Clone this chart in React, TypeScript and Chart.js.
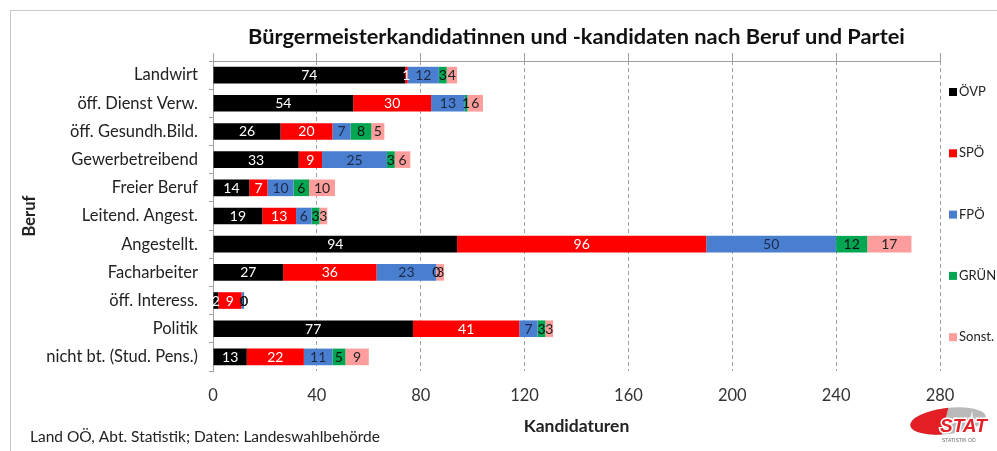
import React, { useEffect, useRef } from 'react';
import { Chart, registerables } from 'chart.js';

Chart.register(...registerables);

const FONT = 'Lato, "Open Sans", sans-serif';

const categories = [
  'Landwirt',
  'öff. Dienst Verw.',
  'öff. Gesundh.Bild.',
  'Gewerbetreibend',
  'Freier Beruf',
  'Leitend. Angest.',
  'Angestellt.',
  'Facharbeiter',
  'öff. Interess.',
  'Politik',
  'nicht bt. (Stud. Pens.)',
];
const oevp = [74, 54, 26, 33, 14, 19, 94, 27, 2, 77, 13];
const spoe = [1, 30, 20, 9, 7, 13, 96, 36, 9, 41, 22];
const fpoe = [12, 13, 7, 25, 10, 6, 50, 23, 1, 7, 11];
const gruene = [3, 1, 8, 3, 6, 3, 12, 0, 0, 3, 5];
const sonst = [4, 6, 5, 6, 10, 3, 17, 3, 0, 3, 9];

const seriesNames = ['ÖVP', 'SPÖ', 'FPÖ', 'GRÜNE', 'Sonst.'];
const seriesValues = [oevp, spoe, fpoe, gruene, sonst];
const seriesColors = ['#000000', '#ff0000', '#4a7fd0', '#00a651', '#ff9d9d'];
const labelColors = ['#ffffff', '#ffffff', '#1c2a48', '#111111', '#222222'];

const xTicks = [0, 40, 80, 120, 160, 200, 240, 280];

const titleText = 'Bürgermeisterkandidatinnen und -kandidaten nach Beruf und Partei';
const xTitle = 'Kandidaturen';
const yTitle = 'Beruf';
const footnote = 'Land OÖ, Abt. Statistik; Daten: Landeswahlbehörde';

const decorPlugin = {
  id: 'decor',
  beforeDraw(chart: any) {
    const ctx = chart.ctx;
    ctx.save();
    ctx.fillStyle = '#ffffff';
    ctx.fillRect(0, 0, chart.width, chart.height);
    ctx.strokeStyle = '#c8c8c8';
    ctx.lineWidth = 1;
    ctx.strokeRect(10.5, 10.5, chart.width + 20, chart.height + 20);
    ctx.restore();
  },
  afterDatasetsDraw(chart: any) {
    const ctx = chart.ctx;
    ctx.save();
    ctx.font = `14px ${FONT}`;
    ctx.textAlign = 'center';
    ctx.textBaseline = 'middle';
    chart.data.datasets.forEach((ds: any, di: number) => {
      const meta = chart.getDatasetMeta(di);
      meta.data.forEach((el: any, i: number) => {
        const v = ds.data[i];
        const p = el.getProps(['x', 'y', 'base'], true);
        ctx.fillStyle = labelColors[di];
        ctx.fillText(String(v), (p.x + p.base) / 2, p.y + 0.5);
      });
    });
    ctx.restore();
  },
  afterDraw(chart: any) {
    const ctx = chart.ctx;
    const ca = chart.chartArea;
    ctx.save();
    // title
    ctx.fillStyle = '#111111';
    ctx.font = `bold 21.8px ${FONT}`;
    ctx.textAlign = 'center';
    ctx.textBaseline = 'middle';
    ctx.fillText(titleText, (ca.left + ca.right) / 2, 37);
    // legend
    ctx.font = `13px ${FONT}`;
    ctx.textAlign = 'left';
    seriesNames.forEach((n, i) => {
      const y = ca.top + 31 + i * 61.3;
      ctx.fillStyle = seriesColors[i];
      ctx.fillRect(ca.right + 9, y - 4, 8, 8);
      ctx.fillStyle = '#222222';
      ctx.fillText(n, ca.right + 19, y);
    });
    // footnote
    ctx.font = `15.5px ${FONT}`;
    ctx.fillStyle = '#222222';
    ctx.fillText(footnote, 30, 437);
    // logo
    const cx = 948, cy = 421;
    ctx.save();
    ctx.beginPath();
    ctx.ellipse(cx, cy, 38, 13, -0.12, 0, Math.PI * 2);
    ctx.fillStyle = '#b9b9b9';
    ctx.fill();
    ctx.clip();
    ctx.beginPath();
    ctx.moveTo(cx + 2, cy - 20);
    ctx.lineTo(cx - 60, cy - 20);
    ctx.lineTo(cx - 60, cy + 20);
    ctx.lineTo(cx - 8, cy + 20);
    ctx.closePath();
    ctx.fillStyle = '#e31e24';
    ctx.fill();
    ctx.restore();
    ctx.font = `italic bold 19px "Liberation Sans", sans-serif`;
    ctx.textAlign = 'left';
    ctx.lineWidth = 3;
    ctx.strokeStyle = '#ffffff';
    ctx.strokeText('STAT', 940, 427);
    ctx.fillStyle = '#e31e24';
    ctx.fillText('STAT', 940, 427);
    ctx.font = `5px "Liberation Sans", sans-serif`;
    ctx.fillStyle = '#666666';
    ctx.fillText('STATISTIK OÖ', 942, 441);
    ctx.restore();
  },
};

export default function App() {
  const ref = useRef<HTMLCanvasElement | null>(null);
  useEffect(() => {
    document.body.style.margin = '0';
    const canvas = ref.current;
    if (!canvas) return;
    const chart = new Chart(canvas, {
      type: 'bar',
      data: {
        labels: categories,
        datasets: seriesNames.map((n, i) => ({
          label: n,
          data: seriesValues[i],
          backgroundColor: seriesColors[i],
          borderWidth: 0,
          categoryPercentage: 1,
          barPercentage: 0.59,
        })),
      },
      options: {
        indexAxis: 'y',
        responsive: false,
        animation: false,
        layout: { padding: { left: 0, right: 57, top: 53, bottom: 0 } },
        plugins: {
          legend: { display: false },
          title: { display: false },
          tooltip: { enabled: false },
        },
        scales: {
          x: {
            type: 'linear',
            position: 'bottom',
            stacked: true,
            min: 0,
            max: 280,
            afterBuildTicks: (s: any) => {
              s.ticks = xTicks.map((v) => ({ value: v }));
            },
            afterFit: (s: any) => {
              s.height = 80;
            },
            ticks: {
              font: { family: FONT, size: 16.5 },
              color: '#333333',
              padding: 15,
            },
            grid: {
              drawTicks: false,
              color: (c: any) => (c.tick && c.tick.value === 0 ? 'rgba(0,0,0,0)' : '#a0a0a0'),
              lineWidth: 1,
            },
            border: { display: false, dash: [4, 3] },
            title: {
              display: true,
              text: xTitle,
              font: { family: FONT, size: 17.5, weight: 'bold' },
              color: '#222222',
              padding: { top: 0, bottom: 14 },
            },
          },
          x2: {
            type: 'linear',
            axis: 'x',
            position: 'top',
            min: 0,
            max: 280,
            afterBuildTicks: (s: any) => {
              s.ticks = xTicks.map((v) => ({ value: v }));
            },
            afterFit: (s: any) => {
              s.height = 8;
            },
            ticks: { display: false },
            grid: { drawOnChartArea: false, drawTicks: true, tickLength: 8, color: '#a0a0a0' },
            border: { display: true, color: '#a0a0a0' },
          },
          y: {
            type: 'category',
            stacked: true,
            afterFit: (s: any) => {
              s.width = 213;
            },
            ticks: {
              font: { family: FONT, size: 16.5 },
              color: '#222222',
              padding: 11,
            },
            grid: {
              offset: true,
              drawOnChartArea: false,
              drawTicks: true,
              tickLength: 4,
              color: '#a0a0a0',
            },
            border: { display: true, color: '#a0a0a0' },
            title: {
              display: true,
              text: yTitle,
              font: { family: FONT, size: 16.5, weight: 'bold' },
              color: '#222222',
              padding: { top: 20, bottom: 0 },
            },
          },
        },
      } as any,
      plugins: [decorPlugin],
    });
    return () => chart.destroy();
  }, []);
  return <canvas ref={ref} width={997} height={451} style={{ display: 'block' }} />;
}
